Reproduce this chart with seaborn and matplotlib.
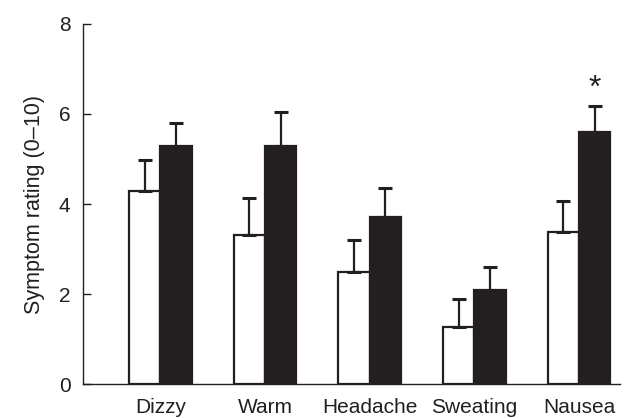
import matplotlib
matplotlib.use("Agg")
import matplotlib.pyplot as plt
import seaborn as sns
import pandas as pd
import numpy as np

categories = ["Dizzy", "Warm", "Headache", "Sweating", "Nausea"]
groups = ["Control", "Treatment"]
control_mean = [4.30, 3.31, 2.50, 1.27, 3.37]
control_err = [0.68, 0.83, 0.70, 0.63, 0.70]
treat_mean = [5.28, 5.28, 3.72, 2.08, 5.61]
treat_err = [0.52, 0.76, 0.63, 0.52, 0.57]
y_ticks = [0, 2, 4, 6, 8]
ylabel = "Symptom rating (0\u201310)"
significant = [False, False, False, False, True]

df = pd.DataFrame({
    "symptom": categories * 2,
    "group": [groups[0]] * len(categories) + [groups[1]] * len(categories),
    "rating": control_mean + treat_mean,
    "err": control_err + treat_err,
})

sns.set_style("ticks")
plt.rcParams["font.family"] = ["Liberation Sans", "DejaVu Sans"]
dark = "#231f20"
fs = 15

fig = plt.figure(figsize=(6.26, 4.18), dpi=100)
ax = fig.add_axes([0.1326, 0.0813, 0.990 - 0.1326, 0.9426 - 0.0813])

sns.barplot(data=df, x="symptom", y="rating", hue="group", order=categories,
            hue_order=groups, palette=["white", dark], width=0.6,
            edgecolor=dark, linewidth=1.6, errorbar=None, legend=False,
            saturation=1, ax=ax)

patches = [p for p in ax.patches]
errs = control_err + treat_err
for p, e in zip(patches, errs):
    xc = p.get_x() + p.get_width() / 2
    top = p.get_height()
    ax.errorbar([xc], [top], yerr=[[0], [e]], fmt="none", ecolor=dark,
                elinewidth=1.6, capsize=5, capthick=2.2, zorder=1)

# significance marker
n = len(categories)
for i, sig in enumerate(significant):
    if sig:
        p = patches[n + i]
        xc = p.get_x() + p.get_width() / 2
        ax.text(xc, treat_mean[i] + treat_err[i] + 0.38, "*", ha="center",
                va="center", fontsize=23, color=dark)

ax.set_ylim(0, 8)
ax.set_xlim(-0.74, 4.39)
ax.set_yticks(y_ticks)
ax.set_yticklabels([str(t) for t in y_ticks], fontsize=fs)
ax.tick_params(axis="y", direction="in", length=6, width=1, colors=dark, pad=9)
ax.tick_params(axis="x", length=0, pad=10, labelsize=fs, colors=dark)
ax.set_xlabel("")
ax.set_ylabel(ylabel, fontsize=15.5, color=dark, labelpad=10)
for s in ["top", "right"]:
    ax.spines[s].set_visible(False)
for s in ["left", "bottom"]:
    ax.spines[s].set_color(dark)
    ax.spines[s].set_linewidth(1.0)

fig.savefig("out.png", dpi=100)
